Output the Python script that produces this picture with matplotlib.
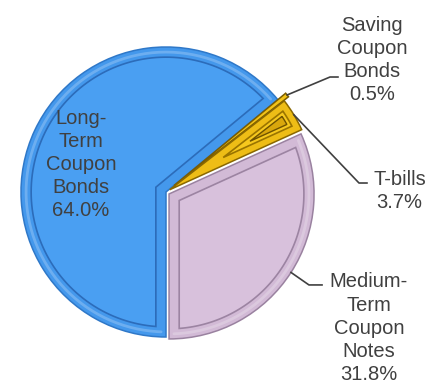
import numpy as np
import matplotlib.pyplot as plt
from matplotlib.patches import Polygon

# debt composition shares (%)
labels = ["Long-\nTerm\nCoupon\nBonds", "Saving\nCoupon\nBonds", "T-bills", "Medium-\nTerm\nCoupon\nNotes"]
shares = [64.0, 0.5, 3.7, 31.8]
explode = [0.0, 0.07, 0.03, 0.025]

face_colors = ["#4a9ff2", "#f2c318", "#f6c81e", "#d8c1dc"]
rim_colors = ["#4498ec", "#e4b412", "#eebd16", "#d2bad6"]
edge_colors = ["#2f78c8", "#7a5c00", "#8a6800", "#9a82a0"]
inner_edge = ["#2c6cba", "#a88400", "#9a7400", "#9c84a2"]

# where each label block sits and the bend of its leader line
label_pos = [(-0.586, 0.19), (1.42, 0.91), (1.61, 0.005), (1.40, -0.94)]
leader_bend = [None, (1.131, 0.793), (1.331, 0.062), (0.986, -0.641)]
leader_end = [None, (1.186, 0.793), (1.386, 0.062), (1.076, -0.641)]

plt.rcParams["font.family"] = ["Liberation Sans", "DejaVu Sans"]
fig = plt.figure(figsize=(4.31, 3.86), dpi=100)
ax = fig.add_axes([0, 0, 1, 1])

wedges, _ = ax.pie(shares, explode=explode, startangle=270, counterclock=False,
                   colors=rim_colors, radius=1.0,
                   wedgeprops=dict(linewidth=1.1))


def inset_wedge(cx, cy, r, t1, t2, d):
    # wedge shrunk by d on the arc and on both straight sides
    half = np.radians(t2 - t1) / 2
    mid = np.radians(t1) + half
    apex = (cx + d / np.sin(half) * np.cos(mid), cy + d / np.sin(half) * np.sin(mid))
    R = r - d
    da = np.degrees(np.arcsin(d / R))
    ang = np.radians(np.linspace(t1 + da, t2 - da, 120))
    pts = [apex] + [(cx + R * np.cos(a), cy + R * np.sin(a)) for a in ang]
    return np.array(pts)


for i, w in enumerate(wedges):
    w.set_edgecolor(edge_colors[i])
    cx, cy = w.center
    t1, t2 = w.theta1, w.theta2
    if t2 - t1 < 3:
        w.set_facecolor(face_colors[i])
        continue
    d = 0.07 if i != 2 else 0.05
    pts = inset_wedge(cx, cy, w.r, t1, t2, d)
    ax.add_patch(Polygon(pts, closed=True, facecolor=face_colors[i],
                         edgecolor=inner_edge[i], linewidth=1.2, zorder=3))
    if i == 2:
        # darker recessed centre of the T-bills slice
        pts2 = inset_wedge(cx, cy, w.r, t1, t2, 0.075)
        ax.add_patch(Polygon(pts2, closed=True, facecolor="#d9a70c",
                             edgecolor="#6e5200", linewidth=1.0, zorder=4))
        continue
    # highlight along the rim for a raised look
    hl = np.radians(np.linspace(t1 + 2, t2 - 2, 160))
    rr = w.r - 0.035
    ax.plot(cx + rr * np.cos(hl), cy + rr * np.sin(hl), color="white",
            alpha=0.22, lw=2.0, zorder=3, solid_capstyle="round")

# labels with leader lines
for i, w in enumerate(wedges):
    text = labels[i] + "\n" + f"{shares[i]:.1f}%"
    ax.text(label_pos[i][0], label_pos[i][1], text, ha="center", va="center",
            multialignment="center", fontsize=14.5, color="#404040",
            linespacing=1.28, zorder=6)
    if leader_bend[i] is None:
        continue
    mid = np.radians((w.theta1 + w.theta2) / 2)
    cx, cy = w.center
    start = (cx + w.r * np.cos(mid), cy + w.r * np.sin(mid))
    xs = [start[0], leader_bend[i][0], leader_end[i][0]]
    ys = [start[1], leader_bend[i][1], leader_end[i][1]]
    ax.plot(xs, ys, color="#404040", lw=1.2, zorder=5)

ax.set_xlim(-166 / 145, (431 - 166) / 145)
ax.set_ylim(-194 / 145, 192 / 145)
ax.set_aspect("auto")
ax.axis("off")

fig.savefig("out.png", dpi=100)
